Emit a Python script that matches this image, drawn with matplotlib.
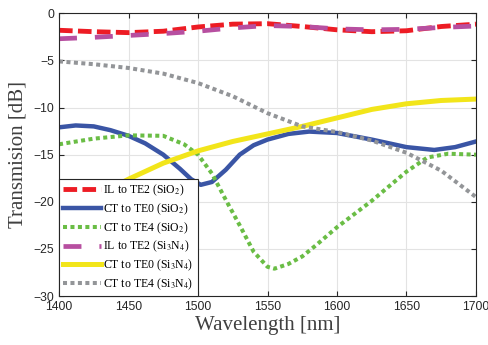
import matplotlib
matplotlib.use('Agg')
import matplotlib.pyplot as plt
import numpy as np

plt.rcParams['font.family'] = ['Liberation Sans', 'DejaVu Sans']
plt.rcParams['mathtext.fontset'] = 'stix'

# insertion loss to TE2 (SiO2 cladding)
wl_il_sio2 = [1400, 1425, 1450, 1475, 1500, 1525, 1550, 1575, 1600, 1625, 1650, 1675, 1700]
il_te2_sio2 = [-1.8, -1.95, -2.05, -1.9, -1.45, -1.15, -1.1, -1.4, -1.75, -1.95, -1.85, -1.4, -1.15]

# crosstalk to TE0 (SiO2 cladding)
wl_ct0_sio2 = [1400, 1412, 1425, 1437, 1450, 1462, 1475, 1487, 1495, 1502, 1510, 1520,
               1530, 1540, 1550, 1565, 1580, 1600, 1625, 1650, 1670, 1685, 1700]
ct_te0_sio2 = [-12.1, -11.9, -12.0, -12.4, -13.0, -13.8, -15.0, -16.5, -17.6, -18.2, -17.9, -16.6,
               -15.0, -14.0, -13.4, -12.8, -12.55, -12.7, -13.4, -14.2, -14.5, -14.2, -13.6]

# crosstalk to TE4 (SiO2 cladding)
wl_ct4_sio2 = [1400, 1425, 1450, 1475, 1490, 1500, 1510, 1520, 1530, 1540, 1550, 1555,
               1565, 1575, 1585, 1600, 1625, 1650, 1665, 1680, 1700]
ct_te4_sio2 = [-13.9, -13.3, -12.95, -13.0, -13.9, -15.0, -17.0, -19.8, -22.5, -25.3, -26.9, -27.1,
               -26.6, -25.8, -24.6, -22.7, -19.9, -16.8, -15.3, -14.9, -15.0]

# insertion loss to TE2 (Si3N4 cladding)
wl_il_sin = [1400, 1425, 1450, 1475, 1500, 1525, 1550, 1575, 1600, 1625, 1650, 1675, 1700]
il_te2_sin = [-2.7, -2.55, -2.35, -2.15, -1.9, -1.55, -1.3, -1.4, -1.65, -1.75, -1.7, -1.5, -1.35]

# crosstalk to TE0 (Si3N4 cladding)
wl_ct0_sin = [1400, 1425, 1450, 1475, 1500, 1525, 1550, 1575, 1600, 1625, 1650, 1675, 1700]
ct_te0_sin = [-21.5, -19.5, -17.6, -15.9, -14.6, -13.6, -12.8, -12.0, -11.1, -10.2, -9.6, -9.25, -9.1]

# crosstalk to TE4 (Si3N4 cladding)
wl_ct4_sin = [1400, 1425, 1450, 1475, 1500, 1525, 1550, 1575, 1600, 1625, 1650, 1675, 1700]
ct_te4_sin = [-5.1, -5.4, -5.8, -6.4, -7.4, -8.8, -10.6, -12.0, -12.6, -13.5, -14.8, -16.7, -19.5]

labels = [r'IL to TE2 (SiO$_2$)', r'CT to TE0 (SiO$_2$)', r'CT to TE4 (SiO$_2$)',
          r'IL to TE2 (Si$_3$N$_4$)', r'CT to TE0 (Si$_3$N$_4$)', r'CT to TE4 (Si$_3$N$_4$)']

fig = plt.figure(figsize=(4.89, 3.45), dpi=100)
ax = fig.add_axes([0.1207, 0.142, 0.8527, 0.8194])

ax.plot(wl_il_sio2, il_te2_sio2, color='#ED1C24', lw=3.5, dashes=(2.8, 1.1), label=labels[0])
ax.plot(wl_ct0_sio2, ct_te0_sio2, color='#3A55A5', lw=3.2, label=labels[1])
ax.plot(wl_ct4_sio2, ct_te4_sio2, color='#6ABD45', lw=2.9, dashes=(1, 0.85), label=labels[2])
ax.plot(wl_il_sin, il_te2_sin, color='#B74FA0', lw=3.4, dashes=(3.8, 3.8), label=labels[3])
ax.plot(wl_ct0_sin, ct_te0_sin, color='#F2E51A', lw=3.6, label=labels[4])
ax.plot(wl_ct4_sin, ct_te4_sin, color='#939598', lw=2.9, dashes=(1, 0.85), label=labels[5])

ax.set_xlim(1400, 1700)
ax.set_ylim(-30, 0)
ax.set_xticks(np.arange(1400, 1701, 50))
ax.set_yticks(np.arange(-30, 1, 5))
ax.grid(True, color='#e3e3e3', lw=0.8)
ax.set_axisbelow(True)

ax.tick_params(direction='in', top=True, right=True, length=3.5, width=0.8,
               colors='#262626', labelsize=8.7)
for sp in ax.spines.values():
    sp.set_color('#262626')
    sp.set_linewidth(0.8)

ax.set_xlabel('Wavelength [nm]', family='Liberation Serif', fontsize=15, color='#404040', labelpad=2)
ax.set_ylabel('Transmision [dB]', family='Liberation Serif', fontsize=15, color='#404040', labelpad=4)

leg = ax.legend(loc='lower left', bbox_to_anchor=(0, 0), borderaxespad=0,
                prop={'family': 'Liberation Serif', 'size': 8.5},
                handlelength=3.2, handletextpad=0.2, labelspacing=0.28,
                borderpad=0.35, fancybox=False, framealpha=1)
leg.get_frame().set_edgecolor('#262626')
leg.get_frame().set_linewidth(0.8)

fig.savefig('out.png', dpi=100)
